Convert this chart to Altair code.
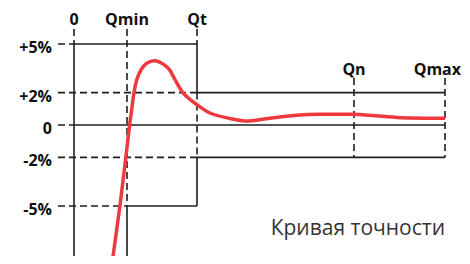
import altair as alt
import pandas as pd

# Flow marks (x, arbitrary units) and tolerance levels (y, %)
flow_names = ["0", "Qmin", "Qt", "Qn", "Qmax"]
flow_values = [0, 53, 123, 280, 371]
pct_labels = ["+5%", "+2%", "0", "-2%", "-5%"]
pct_values = [5, 2, 0, -2, -5]

# Accuracy curve
curve_x = [38, 46, 52, 55.6, 57.5, 60, 62.7, 67, 72.7, 81, 94.3, 100.3, 109,
           116, 123, 136, 156, 171, 196, 226, 250, 280, 323, 369, 371]
curve_y = [-8.58, -4.94, -1.91, 0.0, 0.87, 1.99, 2.78, 3.40, 3.81, 3.97, 3.50,
           2.88, 1.98, 1.58, 1.25, 0.74, 0.40, 0.25, 0.42, 0.62, 0.66, 0.66,
           0.47, 0.42, 0.42]

caption = "Кривая точности"

Q0, Qmin, Qt, Qn, Qmax = flow_values
left = -16      # start of the dashed level guides
top_a = 5.93    # top of guides for 0 / Qmin / Qt
top_b = 2.90    # top of guides for Qn / Qmax
bottom = -10

solid = pd.DataFrame([
    dict(x=Q0, x2=Q0, y=5, y2=bottom),
    dict(x=Q0, x2=Qt, y=5, y2=5),
    dict(x=Qt, x2=Qt, y=5, y2=2),
    dict(x=Qt, x2=Qt, y=-2, y2=-5),
    dict(x=Qmin, x2=Qt, y=-5, y2=-5),
    dict(x=Qmin, x2=Qmin, y=-5, y2=bottom),
    dict(x=Qt, x2=Qmax, y=2, y2=2),
    dict(x=Qt, x2=Qmax, y=-2, y2=-2),
    dict(x=Q0, x2=Qmax, y=0, y2=0),
])

dashed = pd.DataFrame([
    dict(x=left, x2=Q0, y=5, y2=5),
    dict(x=left, x2=Qt, y=2, y2=2),
    dict(x=left, x2=Q0, y=0, y2=0),
    dict(x=left, x2=Qt, y=-2, y2=-2),
    dict(x=left, x2=Qmin, y=-5, y2=-5),
    dict(x=Q0, x2=Q0, y=top_a, y2=5),
    dict(x=Qmin, x2=Qmin, y=top_a, y2=-5),
    dict(x=Qt, x2=Qt, y=top_a, y2=5),
    dict(x=Qt, x2=Qt, y=2, y2=-2),
    dict(x=Qn, x2=Qn, y=top_b, y2=-2),
    dict(x=Qmax, x2=Qmax, y=top_b, y2=-2),
])

curve = pd.DataFrame({"x": curve_x, "y": curve_y})
ylab = pd.DataFrame({"label": pct_labels, "y": pct_values, "x": [-22] * 5})
toplab = pd.DataFrame({
    "label": flow_names[:4],
    "x": flow_values[:4],
    "y": [6.5, 6.5, 6.5, 3.4],
})
qmaxlab = pd.DataFrame({"label": [flow_names[4]], "x": [Qmax + 16], "y": [3.4]})
caplab = pd.DataFrame({"label": [caption], "x": [Qmax], "y": [-6.79]})

xs = alt.Scale(domain=[-66, 388], nice=False, zero=False)
ys = alt.Scale(domain=[-8.086, 7.222], nice=False, zero=False)
X = lambda f="x": alt.X(f"{f}:Q", scale=xs, axis=None)
Y = lambda f="y": alt.Y(f"{f}:Q", scale=ys, axis=None)

line_col = "#1e1e1e"
solid_l = alt.Chart(solid).mark_rule(color=line_col, strokeWidth=1.6, clip=True).encode(
    x=X(), x2="x2:Q", y=Y(), y2="y2:Q")
dashed_l = alt.Chart(dashed).mark_rule(color=line_col, strokeWidth=1.6,
                                       strokeDash=[7, 4], clip=True).encode(
    x=X(), x2="x2:Q", y=Y(), y2="y2:Q")
curve_l = alt.Chart(curve).mark_line(color="#ee3a3e", strokeWidth=3.5,
                                     interpolate="catmull-rom", clip=True).encode(
    x=X(), y=Y(), order="x:Q")

bold = dict(font="Open Sans", fontWeight="bold", fontSize=16, color="#111111")
ytext = alt.Chart(ylab).mark_text(align="right", baseline="middle", dy=4, **bold).encode(
    x=X(), y=Y(), text="label:N")
ttext = alt.Chart(toplab).mark_text(align="center", baseline="middle", **bold).encode(
    x=X(), y=Y(), text="label:N")
qtext = alt.Chart(qmaxlab).mark_text(align="right", baseline="middle", **bold).encode(
    x=X(), y=Y(), text="label:N")
ctext = alt.Chart(caplab).mark_text(align="right", baseline="alphabetic", font="Open Sans",
                                    fontSize=21, color="#333333").encode(
    x=X(), y=Y(), text="label:N")

chart = alt.layer(solid_l, dashed_l, curve_l, ytext, ttext, qtext, ctext).properties(
    width=454, height=248, autosize=alt.AutoSizeParams(type="none"), padding=0
).configure_view(stroke=None)

chart.save("out.html", embed_options={"renderer": "svg", "actions": False})
